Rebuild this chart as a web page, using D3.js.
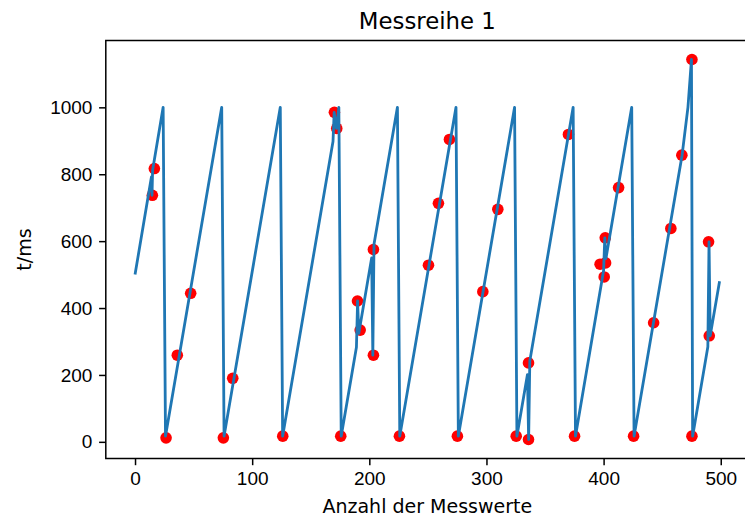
<!DOCTYPE html>
<html>
<head>
<meta charset="utf-8">
<script src="https://cdn.jsdelivr.net/npm/d3@7"></script>
<style>
  body { margin: 0; background: #fff; }
  svg { font-family: "DejaVu Sans", sans-serif; }
  .tick text { font-size: 19px; fill: #000; }
  .tick line { stroke: #000; stroke-width: 1.5px; }
</style>
</head>
<body>
<svg width="745" height="520"></svg>
<script>
// blue line: vertices (index, t in ms)
var lineIndex = [0, 14, 14.5, 15, 24,
  26, 74,
  76, 124,
  126, 169, 170, 172, 174,
  176, 189, 190, 191, 202, 203, 204, 224,
  226, 274,
  276, 324,
  326, 335, 336, 337, 374,
  376, 400, 401, 402, 424,
  426, 467, 472, 475, 476,
  489, 490, 491, 499];
var lineValue = [500, 792, 737, 812, 1000,
  17, 1000,
  17, 1000,
  17, 898, 985, 937, 1000,
  17, 283, 421, 324, 550, 259, 591, 1000,
  17, 1000,
  17, 1000,
  17, 201, 7, 242, 1000,
  17, 512, 610, 548, 1000,
  17, 857, 1000, 1143, 17,
  284, 598, 317, 480];

// red measurement points
var dotIndex = [14.8, 16.5, 26.5, 36.1, 47.5, 75.4, 83.4, 126.1,
  170.2, 172.2, 175.6, 189.9, 192.2, 203.5, 203.5, 225.7,
  250.5, 259, 268.4, 275.2, 296.9, 309.7, 325.4, 335.9, 335.9,
  370, 375.2, 397, 400.5, 401.7, 401.4, 412.8, 425.6, 442.7,
  457.4, 466.8, 475.4, 475.4, 489.6, 490.2];
var dotValue = [737, 817, 12, 259, 444, 12, 190, 17,
  985, 937, 17, 421, 334, 575, 259, 17,
  528, 713, 904, 17, 449, 695, 17, 7, 236,
  919, 17, 531, 493, 535, 610, 760, 17, 356,
  638, 857, 1143, 17, 598, 317];

var xTicks = [0, 100, 200, 300, 400, 500];
var yTicks = [0, 200, 400, 600, 800, 1000];

var title = "Messreihe 1";
var xLabel = "Anzahl der Messwerte";
var yLabel = "t/ms";

var svg = d3.select("svg");

var plot = { left: 105.8, right: 748.8, top: 40.5, bottom: 458.5 };

// matplotlib style 5% margins around the data
function padded(values) {
  var ext = d3.extent(values);
  var m = (ext[1] - ext[0]) * 0.05;
  return [ext[0] - m, ext[1] + m];
}

var x = d3.scaleLinear()
  .domain(padded(lineIndex.concat(dotIndex)))
  .range([plot.left, plot.right]);

var y = d3.scaleLinear()
  .domain(padded(lineValue.concat(dotValue)))
  .range([plot.bottom, plot.top]);

var g = {
  dots: svg.append("g").attr("id", "dots"),
  line: svg.append("g").attr("id", "line"),
  axes: svg.append("g").attr("id", "axes"),
  labels: svg.append("g").attr("id", "labels")
};

g.dots.selectAll("circle")
  .data(dotIndex)
  .enter()
  .append("circle")
  .attr("cx", function(d) { return x(d); })
  .attr("cy", function(d, i) { return y(dotValue[i]); })
  .attr("r", 5.8)
  .style("fill", "#ff0000");

var line = d3.line()
  .x(function(d) { return x(d); })
  .y(function(d, i) { return y(lineValue[i]); });

g.line.append("path")
  .datum(lineIndex)
  .attr("d", line)
  .style("fill", "none")
  .style("stroke", "#1f77b4")
  .style("stroke-width", 2.8)
  .style("stroke-linejoin", "round");

var fmt = d3.format("d");

var xAxis = g.axes.append("g")
  .attr("transform", "translate(0," + plot.bottom + ")")
  .call(d3.axisBottom(x).tickValues(xTicks).tickFormat(fmt).tickSize(6.7).tickPadding(6.7));

var yAxis = g.axes.append("g")
  .attr("transform", "translate(" + plot.left + ",0)")
  .call(d3.axisLeft(y).tickValues(yTicks).tickFormat(fmt).tickSize(6.7).tickPadding(6.7));

xAxis.select(".domain").remove();
yAxis.select(".domain").remove();
g.axes.selectAll("text").attr("font-family", null);

// frame
g.axes.append("rect")
  .attr("x", plot.left)
  .attr("y", plot.top)
  .attr("width", plot.right - plot.left)
  .attr("height", plot.bottom - plot.top)
  .style("fill", "none")
  .style("stroke", "#000")
  .style("stroke-width", 1.5);

g.labels.append("text")
  .attr("x", (plot.left + plot.right) / 2)
  .attr("y", 29)
  .attr("text-anchor", "middle")
  .style("font-size", "22.8px")
  .text(title);

g.labels.append("text")
  .attr("x", (plot.left + plot.right) / 2)
  .attr("y", 512.5)
  .attr("text-anchor", "middle")
  .style("font-size", "19px")
  .text(xLabel);

g.labels.append("text")
  .attr("transform", "translate(31," + (plot.top + plot.bottom) / 2 + ") rotate(-90)")
  .attr("text-anchor", "middle")
  .style("font-size", "19px")
  .text(yLabel);
</script>
</body>
</html>
